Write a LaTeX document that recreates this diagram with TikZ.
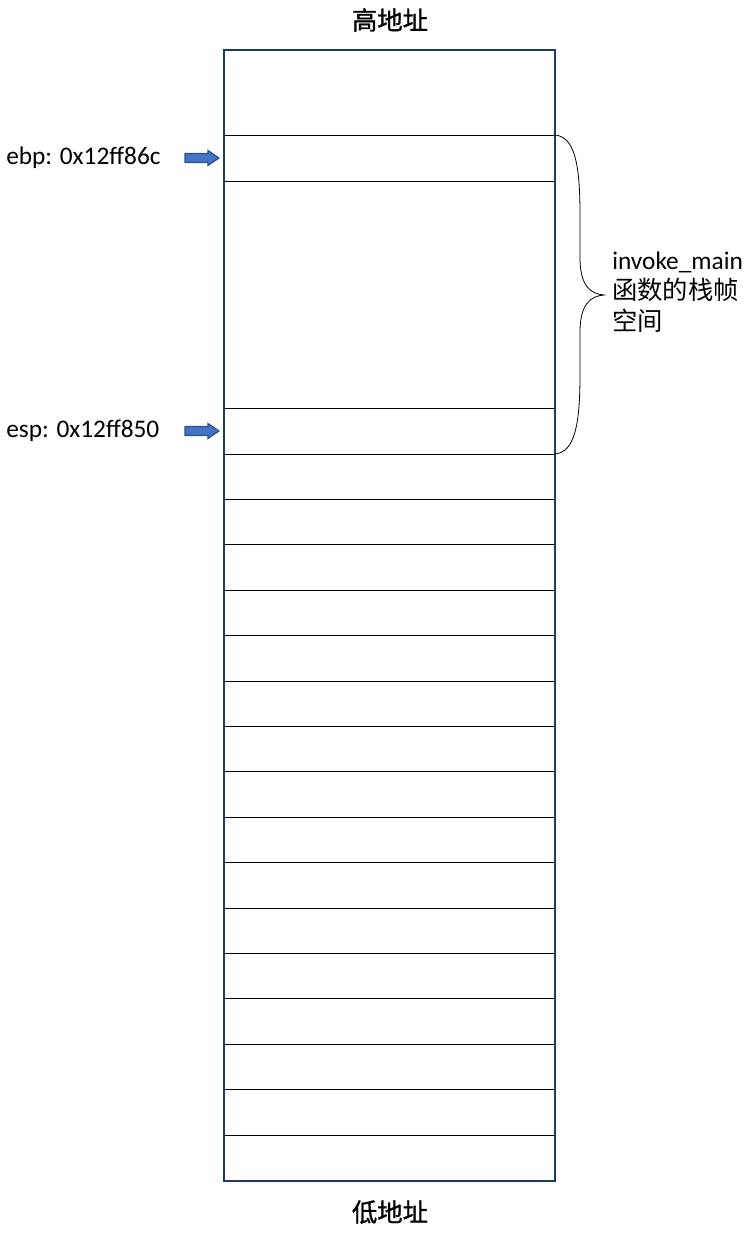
\documentclass[tikz,border=0pt]{standalone}
\usepackage{fontspec}
\setmainfont{Carlito}
\newfontfamily\cjk{Noto Sans CJK SC}
\newfontfamily\cjkhead[FakeBold=1.2]{Noto Sans CJK SC}
\usepackage{xcolor}
\definecolor{boxnavy}{HTML}{1F3864}
\definecolor{arrowfill}{HTML}{4472C4}
\definecolor{arrowline}{HTML}{2F528F}
\tikzset{
  regarrow/.style={draw=arrowline,fill=arrowfill,line width=0.9pt,line join=miter},
  reglabel/.style={anchor=west,inner sep=0pt,font=\fontsize{19}{23}\selectfont},
  cjklabel/.style={inner sep=0pt,font=\fontsize{19}{23}\selectfont\cjkhead}
}
\newcommand{\regarrowat}[1]{%
  \draw[regarrow] (#1) ++(-34,-4.5) -- ++(23,0) -- ++(0,-3) -- ++(11,7.5)
    -- ++(-11,7.5) -- ++(0,-3) -- ++(-23,0) -- cycle;}

\begin{document}
\begin{tikzpicture}[x=0.75pt,y=-0.75pt]
\useasboundingbox (0,0) rectangle (751,1234);
\def\xl{224}\def\xr{555}\def\yt{50}\def\yb{1181}
\foreach \y in {135,181,408,454} \draw[line width=0.7pt] (\xl,\y) -- (\xr,\y);
\foreach \i in {1,...,15} \draw[line width=0.7pt] (\xl,{454+\i*45.4}) -- (\xr,{454+\i*45.4});
\draw[boxnavy,line width=1.6pt] (\xl,\yt) rectangle (\xr,\yb);
\node[cjklabel] (high) at (390,20) {高地址};
\node[cjklabel] (low) at (390,1212) {低地址};
\coordinate (ebptip) at (219,158); \coordinate (esptip) at (219,431);
\regarrowat{ebptip} \regarrowat{esptip}
\node[reglabel] (ebp) at (6,158) {ebp: 0x12ff86c};
\node[reglabel] (esp) at (6,431) {esp: 0x12ff850};
\coordinate (bracetop) at (\xr,135); \coordinate (bracebot) at (\xr,454);
\coordinate (bracetip) at (604,295);
\draw[line width=0.6pt] (bracetop) .. controls (575,137) and (580,165) .. (580,215) -- (580,258)
  .. controls (580,285) and (590,294) .. (bracetip)
  .. controls (590,296) and (580,305) .. (580,332) -- (580,374)
  .. controls (580,424) and (575,452) .. (bracebot);
\node[reglabel,align=left] (frame) at (612,292) {invoke\_main\\{\cjk 函数的栈帧}\\{\cjk 空间}};
\end{tikzpicture}
\end{document}
